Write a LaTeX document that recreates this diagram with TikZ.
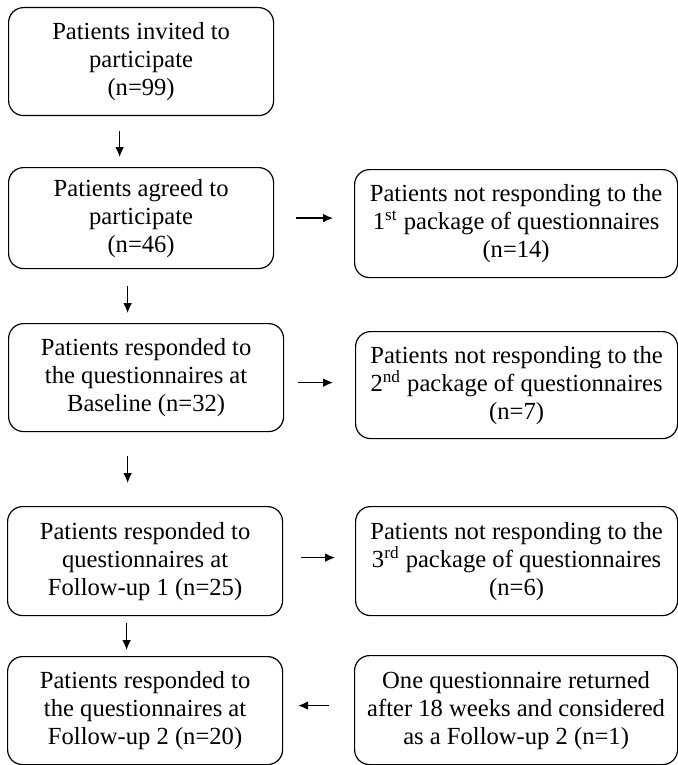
\documentclass[tikz,border=0pt]{standalone}
\usepackage{fontspec}
\setmainfont{Liberation Serif}
\usetikzlibrary{positioning,arrows.meta,calc}

\begin{document}
\begin{tikzpicture}[>={Latex[length=5pt,width=4.4pt]}, x=1pt, y=1pt,
    box/.style={draw,rounded corners=7.5pt,align=center,font=\fontsize{12.3}{14}\selectfont,inner sep=2pt,line width=0.6pt,anchor=north west,minimum height=54pt},
    lbox/.style={box,minimum width=137.5pt},
    rbox/.style={box,minimum width=161.5pt},
    arr/.style={->,line width=0.65pt}]
    \useasboundingbox (0,0) rectangle (339,-382.5);
    % main column
    \node[lbox,minimum width=132.5pt] (inv) at (4,-3.5) {Patients invited to\\participate\\(n=99)};
    \node[lbox,minimum width=132.5pt,minimum height=50.5pt] (agr) at (4,-83.5) {Patients agreed to\\participate\\(n=46)};
    \node[lbox] (base) at (4,-161.5) {Patients responded to\\the questionnaires at\\Baseline (n=32)};
    \node[lbox,minimum height=54.5pt] (fup1) at (3.5,-253) {Patients responded to\\questionnaires at\\Follow-up 1 (n=25)};
    \node[lbox] (fup2) at (3.5,-328) {Patients responded to\\the questionnaires at\\Follow-up 2 (n=20)};
    % side column
    \node[rbox] (nr1) at (177,-84.5) {Patients not responding to the\\1\textsuperscript{st} package of questionnaires\\(n=14)};
    \node[rbox,minimum width=161pt,minimum height=53.5pt] (nr2) at (177.5,-165.5) {Patients not responding to the\\2\textsuperscript{nd} package of questionnaires\\(n=7)};
    \node[rbox,minimum width=161pt,minimum height=54.5pt] (nr3) at (177.5,-253) {Patients not responding to the\\3\textsuperscript{rd} package of questionnaires\\(n=6)};
    \node[rbox,minimum height=54.5pt] (late) at (177,-327.5) {One questionnaire returned\\after 18 weeks and considered\\as a Follow-up 2 (n=1)};
    % downward arrows
    \draw[arr,shorten <=7.5pt,shorten >=5pt] ([xshift=-10.75pt]inv.south) -- ([xshift=-10.75pt]inv.south |- agr.north);
    \draw[arr,shorten <=8.5pt,shorten >=5pt] ([xshift=-6.75pt]agr.south) -- ([xshift=-6.75pt]agr.south |- base.north);
    \draw[arr,shorten <=12pt,shorten >=11.5pt] ([xshift=-9.25pt]base.south) -- ([xshift=-9.25pt]base.south |- fup1.north);
    \draw[arr,shorten <=3.5pt,shorten >=3pt] ([xshift=-9.25pt]fup1.south) -- ([xshift=-9.25pt]fup1.south |- fup2.north);
    % sideways arrows
    \draw[arr,shorten <=11pt,shorten >=10.5pt] (agr.east) -- (agr.east -| nr1.west);
    \draw[arr,shorten <=7pt,shorten >=11pt] ([yshift=-2.5pt]base.east) -- ([yshift=-2.5pt]base.east -| nr2.west);
    \draw[arr,shorten <=9pt,shorten >=10pt] ([yshift=1.75pt]fup1.east) -- ([yshift=1.75pt]fup1.east -| nr3.west);
    \draw[arr,shorten <=12.5pt,shorten >=7.5pt] ([yshift=2.5pt]fup2.east -| late.west) -- ([yshift=2.5pt]fup2.east);
\end{tikzpicture}
\end{document}
